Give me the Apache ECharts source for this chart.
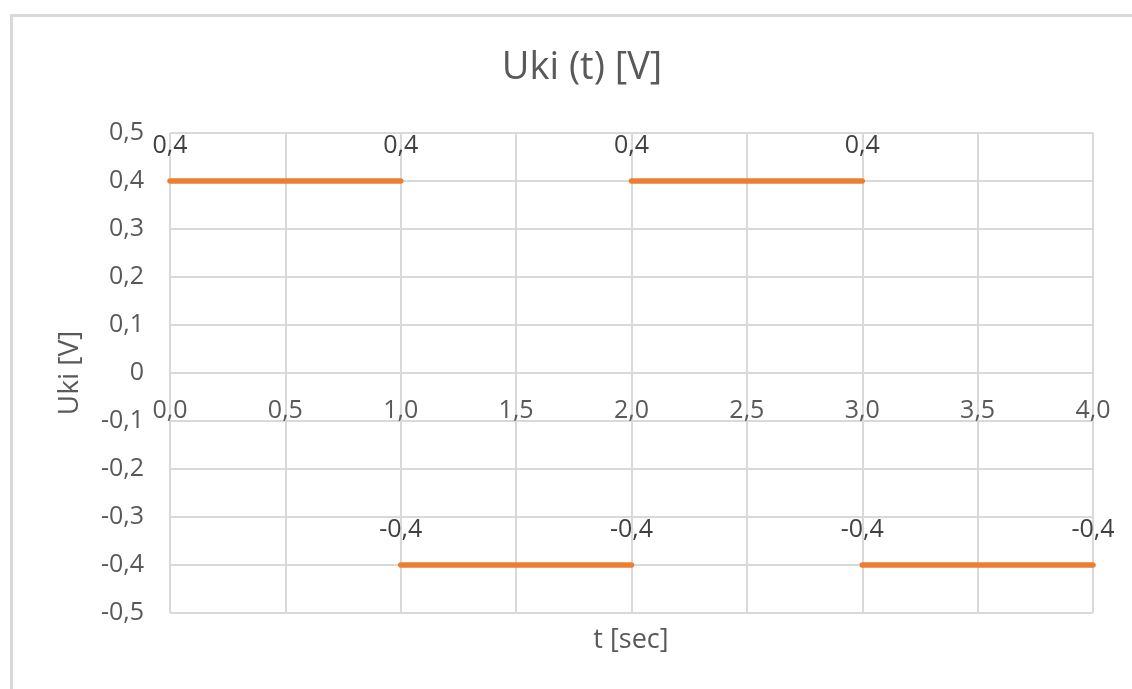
<!DOCTYPE html>
<html>
<head>
<meta charset="utf-8">
<script src="https://cdn.jsdelivr.net/npm/echarts@6/dist/echarts.min.js"></script>
<style>
html,body{margin:0;padding:0;background:#fff;}
#c{width:1132px;height:689px;}
</style>
</head>
<body>
<div id="c"></div>
<script>
// Data: four constant segments of the square wave
var segStart = [0, 1, 2, 3];
var segEnd   = [1, 2, 3, 4];
var segValue = [0.4, -0.4, 0.4, -0.4];

var xTicks = { min: 0, max: 4, interval: 0.5 };
var yTicks = { min: -0.5, max: 0.5, interval: 0.1 };

function comma(v, digits) { return v.toFixed(digits).replace('.', ','); }

var FONT = '"Open Sans", "Noto Sans", sans-serif';
var ORANGE = '#ED7D31';
var GRID = '#d9d9d9';
var GRID_TOP = 133, GRID_BOTTOM = 76, H = 689;
// offset that places the x axis at y = 0 (middle of symmetric y range)
var plotH = H - GRID_TOP - GRID_BOTTOM;
var zeroOffset = -plotH * (0 - yTicks.min) / (yTicks.max - yTicks.min);

var series = segStart.map(function (s, i) {
  return {
    type: 'line',
    data: [[s, segValue[i]], [segEnd[i], segValue[i]]],
    symbol: 'circle',
    symbolSize: 1,
    itemStyle: { color: 'rgba(0,0,0,0)' },
    lineStyle: { color: ORANGE, width: 5.5, cap: 'round' },
    label: {
      show: true, position: 'top', distance: 22,
      color: '#404040', fontSize: 25, fontFamily: FONT,
      formatter: function (p) { return comma(p.value[1], 1); }
    },
    emphasis: { disabled: true },
    silent: true,
    clip: false,
    animation: false
  };
});

var chart = echarts.init(document.getElementById('c'));
chart.setOption({
  animation: false,
  backgroundColor: '#fff',
  title: {
    text: 'Uki (t) [V]', left: 577, top: 44, textAlign: 'center',
    textStyle: { color: '#595959', fontSize: 38, fontWeight: 'normal', fontFamily: FONT }
  },
  graphic: [{
    type: 'rect', silent: true, z: -1,
    shape: { x: 11.5, y: 15.5, width: 1300, height: 1000 },
    style: { fill: 'none', stroke: GRID, lineWidth: 3 }
  }, {
    type: 'text', silent: true,
    style: { text: 't [sec]', x: 631, y: 640, align: 'center', verticalAlign: 'middle',
      fill: '#595959', fontSize: 27, fontFamily: FONT }
  }],
  grid: { left: 170, right: 39, top: GRID_TOP, bottom: GRID_BOTTOM },
  xAxis: {
    type: 'value', min: xTicks.min, max: xTicks.max, interval: xTicks.interval,
    position: 'bottom', offset: zeroOffset,
    axisLine: { show: true, onZero: false, lineStyle: { color: GRID, width: 2 } },
    axisTick: { show: false },
    splitLine: { show: true, lineStyle: { color: GRID, width: 2 } },
    axisLabel: { color: '#595959', fontSize: 25, fontFamily: FONT, margin: 25,
      formatter: function (v) { return comma(v, 1); } }
  },
  yAxis: {
    type: 'value', min: yTicks.min, max: yTicks.max, interval: yTicks.interval,
    axisLine: { show: false }, axisTick: { show: false },
    splitLine: { show: true, lineStyle: { color: GRID, width: 2 } },
    axisLabel: { color: '#595959', fontSize: 25, fontFamily: FONT, margin: 26,
      formatter: function (v) { return Math.abs(v) < 1e-9 ? '0' : comma(v, 1); } },
    name: 'Uki [V]', nameLocation: 'middle', nameGap: 86, nameRotate: 90,
    nameTextStyle: { color: '#595959', fontSize: 28, fontFamily: FONT }
  },
  series: series
});
</script>
</body>
</html>
